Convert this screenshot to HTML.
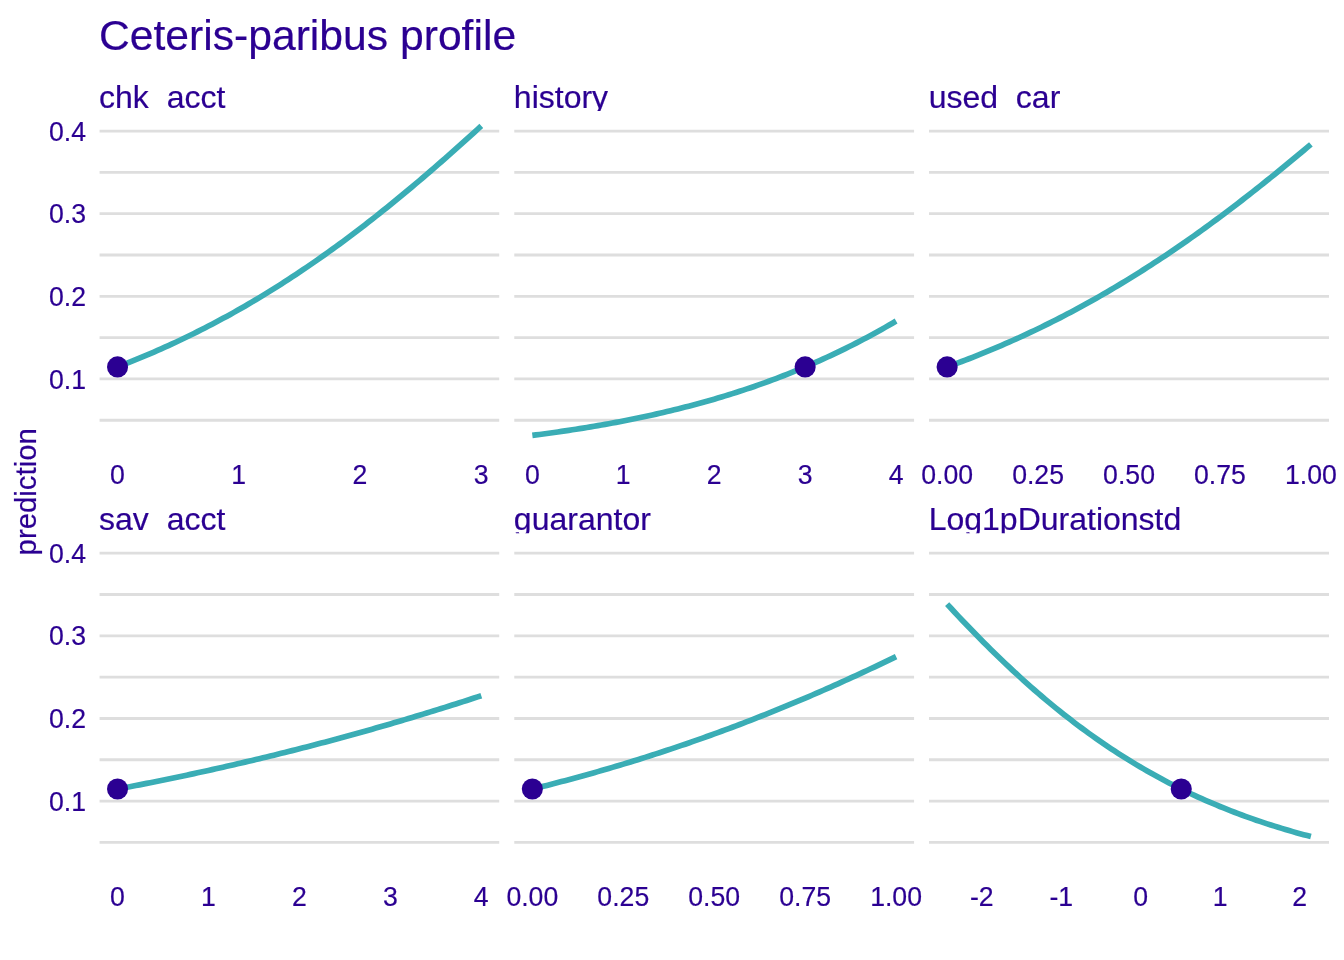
<!DOCTYPE html>
<html><head><meta charset="utf-8"><title>Ceteris-paribus profile</title>
<style>html,body{margin:0;padding:0;background:#fff}svg{display:block}text{stroke:#2b0092;stroke-width:.2px;stroke-linejoin:round}</style></head>
<body>
<svg width="1344" height="960" viewBox="0 0 1344 960" font-family="'Liberation Sans', Arial, Helvetica, sans-serif" fill="#2b0092">
<rect width="1344" height="960" fill="#fff"/>
<defs>
<clipPath id="p00"><rect x="99.35" y="112.00" width="400.13" height="338.70"/></clipPath>
<clipPath id="s00"><rect x="96.35" y="80.00" width="400.13" height="31.00"/></clipPath>
<clipPath id="p01"><rect x="514.15" y="112.00" width="400.13" height="338.70"/></clipPath>
<clipPath id="s01"><rect x="511.15" y="80.00" width="400.13" height="31.00"/></clipPath>
<clipPath id="p02"><rect x="928.95" y="112.00" width="400.13" height="338.70"/></clipPath>
<clipPath id="s02"><rect x="925.95" y="80.00" width="400.13" height="31.00"/></clipPath>
<clipPath id="p10"><rect x="99.35" y="534.15" width="400.13" height="338.70"/></clipPath>
<clipPath id="s10"><rect x="96.35" y="502.15" width="400.13" height="31.00"/></clipPath>
<clipPath id="p11"><rect x="514.15" y="534.15" width="400.13" height="338.70"/></clipPath>
<clipPath id="s11"><rect x="511.15" y="502.15" width="400.13" height="31.00"/></clipPath>
<clipPath id="p12"><rect x="928.95" y="534.15" width="400.13" height="338.70"/></clipPath>
<clipPath id="s12"><rect x="925.95" y="502.15" width="400.13" height="31.00"/></clipPath>
</defs>
<text x="98.9" y="50.2" font-size="42.67">Ceteris-paribus profile</text>
<text transform="translate(35.8,491.8) rotate(-90)" text-anchor="middle" font-size="29.33">prediction</text>
<text transform="translate(86.0,388.54) scale(0.9375,1)" text-anchor="end" font-size="28.45">0.1</text>
<text transform="translate(86.0,305.91) scale(0.9375,1)" text-anchor="end" font-size="28.45">0.2</text>
<text transform="translate(86.0,223.28) scale(0.9375,1)" text-anchor="end" font-size="28.45">0.3</text>
<text transform="translate(86.0,140.65) scale(0.9375,1)" text-anchor="end" font-size="28.45">0.4</text>
<text transform="translate(86.0,810.69) scale(0.9375,1)" text-anchor="end" font-size="28.45">0.1</text>
<text transform="translate(86.0,728.06) scale(0.9375,1)" text-anchor="end" font-size="28.45">0.2</text>
<text transform="translate(86.0,645.43) scale(0.9375,1)" text-anchor="end" font-size="28.45">0.3</text>
<text transform="translate(86.0,562.80) scale(0.9375,1)" text-anchor="end" font-size="28.45">0.4</text>
<g clip-path="url(#p00)">
<line x1="99.35" x2="499.48" y1="461.57" y2="461.57" stroke="#dedede" stroke-width="2.845"/>
<line x1="99.35" x2="499.48" y1="420.25" y2="420.25" stroke="#dedede" stroke-width="2.845"/>
<line x1="99.35" x2="499.48" y1="378.94" y2="378.94" stroke="#dedede" stroke-width="2.845"/>
<line x1="99.35" x2="499.48" y1="337.62" y2="337.62" stroke="#dedede" stroke-width="2.845"/>
<line x1="99.35" x2="499.48" y1="296.31" y2="296.31" stroke="#dedede" stroke-width="2.845"/>
<line x1="99.35" x2="499.48" y1="255.00" y2="255.00" stroke="#dedede" stroke-width="2.845"/>
<line x1="99.35" x2="499.48" y1="213.68" y2="213.68" stroke="#dedede" stroke-width="2.845"/>
<line x1="99.35" x2="499.48" y1="172.37" y2="172.37" stroke="#dedede" stroke-width="2.845"/>
<line x1="99.35" x2="499.48" y1="131.05" y2="131.05" stroke="#dedede" stroke-width="2.845"/>
<line x1="99.35" x2="499.48" y1="89.74" y2="89.74" stroke="#dedede" stroke-width="2.845"/>
<polyline points="117.54,366.92 121.18,365.52 124.81,364.10 128.45,362.66 132.09,361.20 135.73,359.72 139.36,358.23 143.00,356.71 146.64,355.18 150.28,353.63 153.91,352.06 157.55,350.47 161.19,348.85 164.83,347.22 168.46,345.58 172.10,343.91 175.74,342.22 179.38,340.51 183.01,338.78 186.65,337.03 190.29,335.25 193.93,333.46 197.56,331.65 201.20,329.82 204.84,327.96 208.48,326.09 212.11,324.19 215.75,322.27 219.39,320.33 223.03,318.37 226.66,316.39 230.30,314.39 233.94,312.36 237.58,310.32 241.21,308.25 244.85,306.16 248.49,304.05 252.13,301.91 255.76,299.76 259.40,297.58 263.04,295.38 266.68,293.16 270.31,290.91 273.95,288.64 277.59,286.36 281.23,284.05 284.86,281.71 288.50,279.36 292.14,276.98 295.78,274.58 299.41,272.16 303.05,269.72 306.69,267.26 310.33,264.77 313.97,262.26 317.60,259.73 321.24,257.18 324.88,254.61 328.52,252.01 332.15,249.39 335.79,246.76 339.43,244.10 343.07,241.42 346.70,238.72 350.34,236.00 353.98,233.25 357.62,230.49 361.25,227.71 364.89,224.90 368.53,222.08 372.17,219.24 375.80,216.38 379.44,213.49 383.08,210.59 386.72,207.67 390.35,204.73 393.99,201.77 397.63,198.80 401.27,195.80 404.90,192.79 408.54,189.76 412.18,186.71 415.82,183.65 419.45,180.57 423.09,177.47 426.73,174.35 430.37,171.23 434.00,168.08 437.64,164.92 441.28,161.74 444.92,158.55 448.55,155.35 452.19,152.13 455.83,148.90 459.47,145.66 463.10,142.40 466.74,139.13 470.38,135.85 474.02,132.56 477.65,129.25 481.29,125.94" fill="none" stroke="#3aadb5" stroke-width="5.69" stroke-linejoin="round"/>
<circle cx="117.54" cy="366.92" r="10.55" fill="#2b0092"/>
</g>
<g clip-path="url(#s00)"><text x="99.05" y="107.50" font-size="32">chk_acct</text></g>
<text transform="translate(117.54,484.20) scale(0.9375,1)" text-anchor="middle" font-size="28.45">0</text>
<text transform="translate(238.79,484.20) scale(0.9375,1)" text-anchor="middle" font-size="28.45">1</text>
<text transform="translate(360.04,484.20) scale(0.9375,1)" text-anchor="middle" font-size="28.45">2</text>
<text transform="translate(481.29,484.20) scale(0.9375,1)" text-anchor="middle" font-size="28.45">3</text>
<g clip-path="url(#p01)">
<line x1="514.15" x2="914.28" y1="461.57" y2="461.57" stroke="#dedede" stroke-width="2.845"/>
<line x1="514.15" x2="914.28" y1="420.25" y2="420.25" stroke="#dedede" stroke-width="2.845"/>
<line x1="514.15" x2="914.28" y1="378.94" y2="378.94" stroke="#dedede" stroke-width="2.845"/>
<line x1="514.15" x2="914.28" y1="337.62" y2="337.62" stroke="#dedede" stroke-width="2.845"/>
<line x1="514.15" x2="914.28" y1="296.31" y2="296.31" stroke="#dedede" stroke-width="2.845"/>
<line x1="514.15" x2="914.28" y1="255.00" y2="255.00" stroke="#dedede" stroke-width="2.845"/>
<line x1="514.15" x2="914.28" y1="213.68" y2="213.68" stroke="#dedede" stroke-width="2.845"/>
<line x1="514.15" x2="914.28" y1="172.37" y2="172.37" stroke="#dedede" stroke-width="2.845"/>
<line x1="514.15" x2="914.28" y1="131.05" y2="131.05" stroke="#dedede" stroke-width="2.845"/>
<line x1="514.15" x2="914.28" y1="89.74" y2="89.74" stroke="#dedede" stroke-width="2.845"/>
<polyline points="532.34,435.40 535.98,434.94 539.61,434.46 543.25,433.98 546.89,433.49 550.53,432.99 554.16,432.48 557.80,431.96 561.44,431.44 565.08,430.90 568.71,430.36 572.35,429.80 575.99,429.24 579.63,428.67 583.26,428.08 586.90,427.49 590.54,426.89 594.18,426.27 597.81,425.65 601.45,425.02 605.09,424.37 608.73,423.72 612.36,423.05 616.00,422.37 619.64,421.68 623.28,420.98 626.91,420.27 630.55,419.54 634.19,418.81 637.83,418.06 641.46,417.29 645.10,416.52 648.74,415.73 652.38,414.93 656.01,414.12 659.65,413.29 663.29,412.45 666.93,411.60 670.56,410.73 674.20,409.85 677.84,408.95 681.48,408.04 685.11,407.11 688.75,406.17 692.39,405.22 696.03,404.24 699.66,403.26 703.30,402.25 706.94,401.24 710.58,400.20 714.21,399.15 717.85,398.08 721.49,397.00 725.13,395.90 728.77,394.78 732.40,393.64 736.04,392.49 739.68,391.31 743.32,390.12 746.95,388.92 750.59,387.69 754.23,386.44 757.87,385.18 761.50,383.90 765.14,382.59 768.78,381.27 772.42,379.93 776.05,378.57 779.69,377.18 783.33,375.78 786.97,374.36 790.60,372.91 794.24,371.45 797.88,369.96 801.52,368.45 805.15,366.92 808.79,365.37 812.43,363.79 816.07,362.20 819.70,360.58 823.34,358.94 826.98,357.27 830.62,355.58 834.25,353.87 837.89,352.14 841.53,350.38 845.17,348.60 848.80,346.79 852.44,344.96 856.08,343.11 859.72,341.23 863.35,339.32 866.99,337.39 870.63,335.44 874.27,333.46 877.90,331.46 881.54,329.43 885.18,327.37 888.82,325.29 892.45,323.18 896.09,321.05" fill="none" stroke="#3aadb5" stroke-width="5.69" stroke-linejoin="round"/>
<circle cx="805.15" cy="366.92" r="10.55" fill="#2b0092"/>
</g>
<g clip-path="url(#s01)"><text x="513.85" y="107.50" font-size="32">history</text></g>
<text transform="translate(532.34,484.20) scale(0.9375,1)" text-anchor="middle" font-size="28.45">0</text>
<text transform="translate(623.28,484.20) scale(0.9375,1)" text-anchor="middle" font-size="28.45">1</text>
<text transform="translate(714.21,484.20) scale(0.9375,1)" text-anchor="middle" font-size="28.45">2</text>
<text transform="translate(805.15,484.20) scale(0.9375,1)" text-anchor="middle" font-size="28.45">3</text>
<text transform="translate(896.09,484.20) scale(0.9375,1)" text-anchor="middle" font-size="28.45">4</text>
<g clip-path="url(#p02)">
<line x1="928.95" x2="1329.08" y1="461.57" y2="461.57" stroke="#dedede" stroke-width="2.845"/>
<line x1="928.95" x2="1329.08" y1="420.25" y2="420.25" stroke="#dedede" stroke-width="2.845"/>
<line x1="928.95" x2="1329.08" y1="378.94" y2="378.94" stroke="#dedede" stroke-width="2.845"/>
<line x1="928.95" x2="1329.08" y1="337.62" y2="337.62" stroke="#dedede" stroke-width="2.845"/>
<line x1="928.95" x2="1329.08" y1="296.31" y2="296.31" stroke="#dedede" stroke-width="2.845"/>
<line x1="928.95" x2="1329.08" y1="255.00" y2="255.00" stroke="#dedede" stroke-width="2.845"/>
<line x1="928.95" x2="1329.08" y1="213.68" y2="213.68" stroke="#dedede" stroke-width="2.845"/>
<line x1="928.95" x2="1329.08" y1="172.37" y2="172.37" stroke="#dedede" stroke-width="2.845"/>
<line x1="928.95" x2="1329.08" y1="131.05" y2="131.05" stroke="#dedede" stroke-width="2.845"/>
<line x1="928.95" x2="1329.08" y1="89.74" y2="89.74" stroke="#dedede" stroke-width="2.845"/>
<polyline points="947.14,366.92 950.78,365.60 954.41,364.26 958.05,362.90 961.69,361.53 965.33,360.14 968.96,358.73 972.60,357.31 976.24,355.87 979.88,354.41 983.51,352.94 987.15,351.45 990.79,349.94 994.43,348.41 998.06,346.87 1001.70,345.31 1005.34,343.73 1008.98,342.13 1012.61,340.52 1016.25,338.89 1019.89,337.23 1023.53,335.57 1027.16,333.88 1030.80,332.17 1034.44,330.45 1038.08,328.70 1041.71,326.94 1045.35,325.16 1048.99,323.36 1052.63,321.54 1056.26,319.71 1059.90,317.85 1063.54,315.97 1067.18,314.08 1070.81,312.16 1074.45,310.23 1078.09,308.28 1081.73,306.30 1085.36,304.31 1089.00,302.30 1092.64,300.27 1096.28,298.22 1099.91,296.15 1103.55,294.06 1107.19,291.95 1110.83,289.82 1114.46,287.67 1118.10,285.50 1121.74,283.31 1125.38,281.11 1129.02,278.88 1132.65,276.63 1136.29,274.36 1139.93,272.08 1143.57,269.77 1147.20,267.44 1150.84,265.10 1154.48,262.73 1158.12,260.35 1161.75,257.95 1165.39,255.52 1169.03,253.08 1172.67,250.62 1176.30,248.14 1179.94,245.64 1183.58,243.12 1187.22,240.59 1190.85,238.03 1194.49,235.46 1198.13,232.87 1201.77,230.26 1205.40,227.63 1209.04,224.98 1212.68,222.32 1216.32,219.63 1219.95,216.94 1223.59,214.22 1227.23,211.48 1230.87,208.73 1234.50,205.96 1238.14,203.18 1241.78,200.38 1245.42,197.56 1249.05,194.73 1252.69,191.88 1256.33,189.01 1259.97,186.13 1263.60,183.24 1267.24,180.33 1270.88,177.40 1274.52,174.46 1278.15,171.51 1281.79,168.54 1285.43,165.56 1289.07,162.56 1292.70,159.56 1296.34,156.54 1299.98,153.50 1303.62,150.46 1307.25,147.40 1310.89,144.34" fill="none" stroke="#3aadb5" stroke-width="5.69" stroke-linejoin="round"/>
<circle cx="947.14" cy="366.92" r="10.55" fill="#2b0092"/>
</g>
<g clip-path="url(#s02)"><text x="928.65" y="107.50" font-size="32">used_car</text></g>
<text transform="translate(947.14,484.20) scale(0.9375,1)" text-anchor="middle" font-size="28.45">0.00</text>
<text transform="translate(1038.08,484.20) scale(0.9375,1)" text-anchor="middle" font-size="28.45">0.25</text>
<text transform="translate(1129.02,484.20) scale(0.9375,1)" text-anchor="middle" font-size="28.45">0.50</text>
<text transform="translate(1219.95,484.20) scale(0.9375,1)" text-anchor="middle" font-size="28.45">0.75</text>
<text transform="translate(1310.89,484.20) scale(0.9375,1)" text-anchor="middle" font-size="28.45">1.00</text>
<g clip-path="url(#p10)">
<line x1="99.35" x2="499.48" y1="883.72" y2="883.72" stroke="#dedede" stroke-width="2.845"/>
<line x1="99.35" x2="499.48" y1="842.40" y2="842.40" stroke="#dedede" stroke-width="2.845"/>
<line x1="99.35" x2="499.48" y1="801.09" y2="801.09" stroke="#dedede" stroke-width="2.845"/>
<line x1="99.35" x2="499.48" y1="759.77" y2="759.77" stroke="#dedede" stroke-width="2.845"/>
<line x1="99.35" x2="499.48" y1="718.46" y2="718.46" stroke="#dedede" stroke-width="2.845"/>
<line x1="99.35" x2="499.48" y1="677.14" y2="677.14" stroke="#dedede" stroke-width="2.845"/>
<line x1="99.35" x2="499.48" y1="635.83" y2="635.83" stroke="#dedede" stroke-width="2.845"/>
<line x1="99.35" x2="499.48" y1="594.51" y2="594.51" stroke="#dedede" stroke-width="2.845"/>
<line x1="99.35" x2="499.48" y1="553.20" y2="553.20" stroke="#dedede" stroke-width="2.845"/>
<line x1="99.35" x2="499.48" y1="511.88" y2="511.88" stroke="#dedede" stroke-width="2.845"/>
<polyline points="117.54,789.07 121.18,788.38 124.81,787.68 128.45,786.98 132.09,786.28 135.73,785.57 139.36,784.85 143.00,784.14 146.64,783.41 150.28,782.69 153.91,781.96 157.55,781.22 161.19,780.48 164.83,779.73 168.46,778.98 172.10,778.23 175.74,777.47 179.38,776.70 183.01,775.94 186.65,775.16 190.29,774.38 193.93,773.60 197.56,772.81 201.20,772.02 204.84,771.22 208.48,770.42 212.11,769.62 215.75,768.80 219.39,767.99 223.03,767.17 226.66,766.34 230.30,765.51 233.94,764.67 237.58,763.83 241.21,762.99 244.85,762.13 248.49,761.28 252.13,760.42 255.76,759.55 259.40,758.68 263.04,757.81 266.68,756.92 270.31,756.04 273.95,755.15 277.59,754.25 281.23,753.35 284.86,752.44 288.50,751.53 292.14,750.62 295.78,749.70 299.41,748.77 303.05,747.84 306.69,746.90 310.33,745.96 313.97,745.01 317.60,744.06 321.24,743.10 324.88,742.14 328.52,741.17 332.15,740.19 335.79,739.22 339.43,738.23 343.07,737.24 346.70,736.25 350.34,735.25 353.98,734.24 357.62,733.23 361.25,732.22 364.89,731.19 368.53,730.17 372.17,729.14 375.80,728.10 379.44,727.06 383.08,726.01 386.72,724.95 390.35,723.90 393.99,722.83 397.63,721.76 401.27,720.69 404.90,719.61 408.54,718.52 412.18,717.43 415.82,716.34 419.45,715.23 423.09,714.13 426.73,713.01 430.37,711.90 434.00,710.77 437.64,709.64 441.28,708.51 444.92,707.37 448.55,706.23 452.19,705.08 455.83,703.92 459.47,702.76 463.10,701.59 466.74,700.42 470.38,699.24 474.02,698.06 477.65,696.87 481.29,695.68" fill="none" stroke="#3aadb5" stroke-width="5.69" stroke-linejoin="round"/>
<circle cx="117.54" cy="789.07" r="10.55" fill="#2b0092"/>
</g>
<g clip-path="url(#s10)"><text x="99.05" y="529.65" font-size="32">sav_acct</text></g>
<text transform="translate(117.54,906.35) scale(0.9375,1)" text-anchor="middle" font-size="28.45">0</text>
<text transform="translate(208.48,906.35) scale(0.9375,1)" text-anchor="middle" font-size="28.45">1</text>
<text transform="translate(299.41,906.35) scale(0.9375,1)" text-anchor="middle" font-size="28.45">2</text>
<text transform="translate(390.35,906.35) scale(0.9375,1)" text-anchor="middle" font-size="28.45">3</text>
<text transform="translate(481.29,906.35) scale(0.9375,1)" text-anchor="middle" font-size="28.45">4</text>
<g clip-path="url(#p11)">
<line x1="514.15" x2="914.28" y1="883.72" y2="883.72" stroke="#dedede" stroke-width="2.845"/>
<line x1="514.15" x2="914.28" y1="842.40" y2="842.40" stroke="#dedede" stroke-width="2.845"/>
<line x1="514.15" x2="914.28" y1="801.09" y2="801.09" stroke="#dedede" stroke-width="2.845"/>
<line x1="514.15" x2="914.28" y1="759.77" y2="759.77" stroke="#dedede" stroke-width="2.845"/>
<line x1="514.15" x2="914.28" y1="718.46" y2="718.46" stroke="#dedede" stroke-width="2.845"/>
<line x1="514.15" x2="914.28" y1="677.14" y2="677.14" stroke="#dedede" stroke-width="2.845"/>
<line x1="514.15" x2="914.28" y1="635.83" y2="635.83" stroke="#dedede" stroke-width="2.845"/>
<line x1="514.15" x2="914.28" y1="594.51" y2="594.51" stroke="#dedede" stroke-width="2.845"/>
<line x1="514.15" x2="914.28" y1="553.20" y2="553.20" stroke="#dedede" stroke-width="2.845"/>
<line x1="514.15" x2="914.28" y1="511.88" y2="511.88" stroke="#dedede" stroke-width="2.845"/>
<polyline points="532.34,789.07 535.98,788.17 539.61,787.25 543.25,786.34 546.89,785.41 550.53,784.47 554.16,783.53 557.80,782.58 561.44,781.62 565.08,780.66 568.71,779.69 572.35,778.70 575.99,777.72 579.63,776.72 583.26,775.71 586.90,774.70 590.54,773.68 594.18,772.65 597.81,771.61 601.45,770.57 605.09,769.51 608.73,768.45 612.36,767.38 616.00,766.30 619.64,765.22 623.28,764.12 626.91,763.02 630.55,761.91 634.19,760.79 637.83,759.66 641.46,758.52 645.10,757.37 648.74,756.22 652.38,755.05 656.01,753.88 659.65,752.70 663.29,751.51 666.93,750.31 670.56,749.11 674.20,747.89 677.84,746.67 681.48,745.43 685.11,744.19 688.75,742.94 692.39,741.68 696.03,740.41 699.66,739.13 703.30,737.84 706.94,736.55 710.58,735.24 714.21,733.93 717.85,732.61 721.49,731.27 725.13,729.93 728.77,728.58 732.40,727.22 736.04,725.85 739.68,724.48 743.32,723.09 746.95,721.69 750.59,720.29 754.23,718.87 757.87,717.45 761.50,716.02 765.14,714.57 768.78,713.12 772.42,711.66 776.05,710.19 779.69,708.71 783.33,707.22 786.97,705.73 790.60,704.22 794.24,702.70 797.88,701.18 801.52,699.65 805.15,698.10 808.79,696.55 812.43,694.99 816.07,693.42 819.70,691.84 823.34,690.25 826.98,688.65 830.62,687.04 834.25,685.43 837.89,683.80 841.53,682.17 845.17,680.52 848.80,678.87 852.44,677.21 856.08,675.54 859.72,673.86 863.35,672.17 866.99,670.47 870.63,668.76 874.27,667.05 877.90,665.33 881.54,663.59 885.18,661.85 888.82,660.10 892.45,658.34 896.09,656.58" fill="none" stroke="#3aadb5" stroke-width="5.69" stroke-linejoin="round"/>
<circle cx="532.34" cy="789.07" r="10.55" fill="#2b0092"/>
</g>
<g clip-path="url(#s11)"><text x="513.85" y="529.65" font-size="32">guarantor</text></g>
<text transform="translate(532.34,906.35) scale(0.9375,1)" text-anchor="middle" font-size="28.45">0.00</text>
<text transform="translate(623.28,906.35) scale(0.9375,1)" text-anchor="middle" font-size="28.45">0.25</text>
<text transform="translate(714.21,906.35) scale(0.9375,1)" text-anchor="middle" font-size="28.45">0.50</text>
<text transform="translate(805.15,906.35) scale(0.9375,1)" text-anchor="middle" font-size="28.45">0.75</text>
<text transform="translate(896.09,906.35) scale(0.9375,1)" text-anchor="middle" font-size="28.45">1.00</text>
<g clip-path="url(#p12)">
<line x1="928.95" x2="1329.08" y1="883.72" y2="883.72" stroke="#dedede" stroke-width="2.845"/>
<line x1="928.95" x2="1329.08" y1="842.40" y2="842.40" stroke="#dedede" stroke-width="2.845"/>
<line x1="928.95" x2="1329.08" y1="801.09" y2="801.09" stroke="#dedede" stroke-width="2.845"/>
<line x1="928.95" x2="1329.08" y1="759.77" y2="759.77" stroke="#dedede" stroke-width="2.845"/>
<line x1="928.95" x2="1329.08" y1="718.46" y2="718.46" stroke="#dedede" stroke-width="2.845"/>
<line x1="928.95" x2="1329.08" y1="677.14" y2="677.14" stroke="#dedede" stroke-width="2.845"/>
<line x1="928.95" x2="1329.08" y1="635.83" y2="635.83" stroke="#dedede" stroke-width="2.845"/>
<line x1="928.95" x2="1329.08" y1="594.51" y2="594.51" stroke="#dedede" stroke-width="2.845"/>
<line x1="928.95" x2="1329.08" y1="553.20" y2="553.20" stroke="#dedede" stroke-width="2.845"/>
<line x1="928.95" x2="1329.08" y1="511.88" y2="511.88" stroke="#dedede" stroke-width="2.845"/>
<polyline points="947.14,604.11 950.78,608.04 954.41,611.96 958.05,615.84 961.69,619.69 965.33,623.52 968.96,627.31 972.60,631.08 976.24,634.81 979.88,638.51 983.51,642.18 987.15,645.81 990.79,649.42 994.43,652.99 998.06,656.52 1001.70,660.03 1005.34,663.50 1008.98,666.93 1012.61,670.33 1016.25,673.69 1019.89,677.02 1023.53,680.32 1027.16,683.58 1030.80,686.80 1034.44,689.99 1038.08,693.14 1041.71,696.25 1045.35,699.33 1048.99,702.37 1052.63,705.38 1056.26,708.35 1059.90,711.28 1063.54,714.18 1067.18,717.04 1070.81,719.86 1074.45,722.65 1078.09,725.40 1081.73,728.12 1085.36,730.80 1089.00,733.44 1092.64,736.05 1096.28,738.62 1099.91,741.16 1103.55,743.66 1107.19,746.13 1110.83,748.56 1114.46,750.96 1118.10,753.32 1121.74,755.65 1125.38,757.94 1129.02,760.20 1132.65,762.43 1136.29,764.62 1139.93,766.78 1143.57,768.91 1147.20,771.00 1150.84,773.06 1154.48,775.09 1158.12,777.09 1161.75,779.06 1165.39,780.99 1169.03,782.90 1172.67,784.77 1176.30,786.62 1179.94,788.43 1183.58,790.21 1187.22,791.97 1190.85,793.70 1194.49,795.39 1198.13,797.06 1201.77,798.70 1205.40,800.32 1209.04,801.90 1212.68,803.46 1216.32,804.99 1219.95,806.50 1223.59,807.98 1227.23,809.43 1230.87,810.86 1234.50,812.27 1238.14,813.65 1241.78,815.00 1245.42,816.33 1249.05,817.64 1252.69,818.92 1256.33,820.19 1259.97,821.42 1263.60,822.64 1267.24,823.83 1270.88,825.01 1274.52,826.16 1278.15,827.29 1281.79,828.40 1285.43,829.49 1289.07,830.56 1292.70,831.61 1296.34,832.64 1299.98,833.65 1303.62,834.64 1307.25,835.61 1310.89,836.57" fill="none" stroke="#3aadb5" stroke-width="5.69" stroke-linejoin="round"/>
<circle cx="1181.24" cy="789.07" r="10.55" fill="#2b0092"/>
</g>
<g clip-path="url(#s12)"><text x="928.65" y="529.65" font-size="32">Log1pDurationstd</text></g>
<text transform="translate(981.76,906.35) scale(0.9375,1)" text-anchor="middle" font-size="28.45">-2</text>
<text transform="translate(1061.23,906.35) scale(0.9375,1)" text-anchor="middle" font-size="28.45">-1</text>
<text transform="translate(1140.71,906.35) scale(0.9375,1)" text-anchor="middle" font-size="28.45">0</text>
<text transform="translate(1220.18,906.35) scale(0.9375,1)" text-anchor="middle" font-size="28.45">1</text>
<text transform="translate(1299.65,906.35) scale(0.9375,1)" text-anchor="middle" font-size="28.45">2</text>
</svg>
</body></html>
